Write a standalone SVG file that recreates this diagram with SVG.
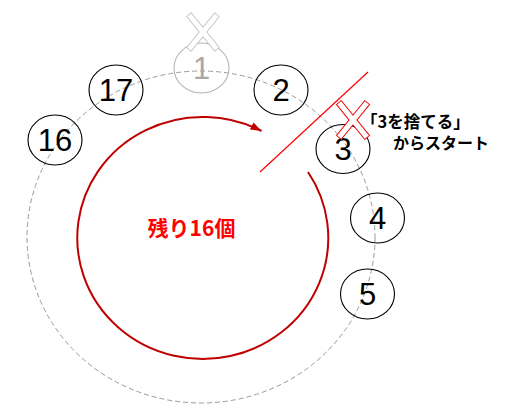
<svg xmlns="http://www.w3.org/2000/svg" width="532" height="419" viewBox="0 0 532 419">
<defs>
<style>
.node ellipse{fill:none;stroke:#000;stroke-width:1.1}
.num{font-family:"Liberation Sans",Arial,sans-serif;font-size:31px;fill:#000;text-anchor:middle}
.gray ellipse{stroke:#b4b4b4}
.gray .num{fill:#a8a8a8}
.jp{font-family:"Noto Sans CJK JP","Liberation Sans",sans-serif;font-weight:bold}
.xo{stroke-width:1.3}
.xf{fill:#fff;stroke:none}
</style>
<rect id="bar" x="-2.6" y="-22" width="5.2" height="44"/>
<marker id="ah" markerUnits="userSpaceOnUse" markerWidth="11" markerHeight="8" refX="11" refY="4" orient="auto">
<path d="M0,0 L11,4 L0,8 z" fill="#c00000"/>
</marker>
</defs>
<rect width="532" height="419" fill="#fff"/>
<ellipse cx="201" cy="237" rx="174" ry="166" fill="none" stroke="#9a9a9a" stroke-width="1" stroke-dasharray="5,3"/>
<g id="node-1" class="node gray">
<ellipse cx="201.5" cy="68" rx="27.5" ry="25"/>
<text class="num" x="201.5" y="79">1</text>
<g transform="translate(203,32)">
<g fill="none" stroke="#b4b4b4" class="xo">
<use href="#bar" transform="rotate(39)"/>
<use href="#bar" transform="rotate(-39)"/>
</g>
<g class="xf">
<use href="#bar" transform="rotate(39)"/>
<use href="#bar" transform="rotate(-39)"/>
</g>
</g>
</g>
<g id="node-2" class="node">
<ellipse cx="281" cy="90" rx="27" ry="25"/>
<text class="num" x="281" y="101">2</text>
</g>
<g id="node-3" class="node">
<ellipse cx="343" cy="149" rx="27" ry="24.5"/>
<text class="num" x="343" y="160">3</text>
</g>
<g id="node-4" class="node">
<ellipse cx="377.5" cy="218" rx="27" ry="25"/>
<text class="num" x="377.5" y="229">4</text>
</g>
<g id="node-5" class="node">
<ellipse cx="367.5" cy="294" rx="27" ry="25"/>
<text class="num" x="367.5" y="305">5</text>
</g>
<g id="node-16" class="node">
<ellipse cx="55" cy="140" rx="27" ry="25"/>
<text class="num" x="55" y="151">16</text>
</g>
<g id="node-17" class="node">
<ellipse cx="116" cy="90" rx="27" ry="25"/>
<text class="num" x="116" y="101">17</text>
</g>
<g id="connectors">
<path d="M308,172 A125.5,121 0 1 1 261.5,131" fill="none" stroke="#c00000" stroke-width="2" marker-end="url(#ah)"/>
<line x1="260" y1="172" x2="368" y2="72" stroke="#ff0000" stroke-width="1.2"/>
</g>
<g id="cross-3" transform="translate(353,120)">
<g fill="none" stroke="#f00000" stroke-width="1.9">
<use href="#bar" transform="rotate(39)"/>
<use href="#bar" transform="rotate(-39)"/>
</g>
<g class="xf">
<use href="#bar" transform="rotate(39)"/>
<use href="#bar" transform="rotate(-39)"/>
</g>
</g>
<g id="label-start" class="jp" fill="#000">
<text x="361" y="127.5" font-size="16.5">「3を捨てる」</text>
<text x="393" y="149" font-size="16">からスタート</text>
</g>
<g id="label-remaining">
<text class="jp" x="191.5" y="236" font-size="21" fill="#ff0000" text-anchor="middle">残り16個</text>
</g>
</svg>
